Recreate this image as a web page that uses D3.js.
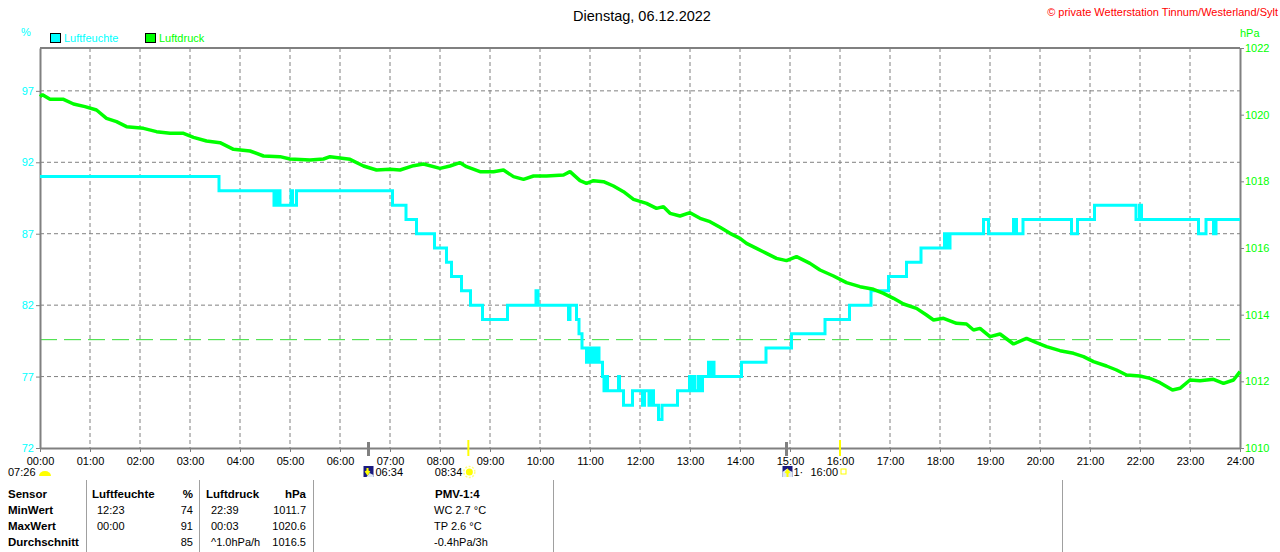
<!DOCTYPE html>
<html>
<head>
<meta charset="utf-8">
<script src="https://cdn.jsdelivr.net/npm/d3@7"></script>
<style>
  body { margin: 0; background: #fff; }
  svg text { font-family: "Liberation Sans", Arial, sans-serif; }
  .narrow { font-family: "Liberation Sans Narrow", "Liberation Sans", Arial, sans-serif; font-stretch: condensed; }
</style>
</head>
<body>
<svg id="chart" width="1280" height="552"></svg>
<script>
// Luftfeuchte, step changes (hour of day, %)
const humTimes = [0, 3.58, 4.68, 4.72, 4.74, 4.78, 4.80, 5.02, 5.05, 5.13, 7.05, 7.32, 7.53, 7.89, 8.13, 8.23, 8.43, 8.61, 8.85,
  9.35, 9.92, 9.96, 10.57, 10.60, 10.73, 10.78, 10.84, 10.93, 10.97, 11.03, 11.07, 11.10, 11.15, 11.18, 11.25, 11.28, 11.31,
  11.35, 11.57, 11.59, 11.67, 11.85, 12.05, 12.09, 12.18, 12.22, 12.27, 12.37, 12.44, 12.75, 12.99, 13.01, 13.05, 13.10,
  13.17, 13.20, 13.25, 13.37, 13.40, 13.45, 13.48, 14.03, 14.52, 15.03, 15.70, 16.19, 16.62, 16.97, 17.33, 17.62, 18.09,
  18.11, 18.14, 18.17, 18.20, 18.87, 18.97, 19.47, 19.53, 19.66, 20.63, 20.75, 21.09, 21.92, 21.99, 22.03, 23.17, 23.32,
  23.47, 23.52, 24]
const humValues = [91, 90, 89, 90, 89, 90, 89, 90, 89, 90, 89, 88, 87, 86, 85, 84, 83, 82, 81,
  82, 83, 82, 81, 82, 81, 80, 79, 78, 79, 78, 79, 78, 79, 78, 77, 76, 77,
  76, 77, 76, 75, 76, 75, 76, 75, 76, 75, 74, 75, 76, 77, 76, 77, 76,
  77, 76, 77, 78, 77, 78, 77, 78, 79, 80, 81, 82, 83, 84, 85, 86, 87,
  86, 87, 86, 87, 88, 87, 88, 87, 88, 87, 88, 89, 88, 89, 88, 87, 88,
  87, 88, 88]

// Luftdruck (hour of day, hPa)
const presTimes = [0, 0.05, 0.2, 0.47, 0.67, 0.9, 1.13, 1.33, 1.53, 1.73, 2.07, 2.33, 2.6, 2.87, 3.07, 3.33, 3.6, 3.87,
  4.2, 4.47, 4.8, 5.0, 5.4, 5.67, 5.8, 6.2, 6.47, 6.73, 7.0, 7.2, 7.47, 7.67, 8.0, 8.2, 8.4, 8.53, 8.8, 9.07, 9.27,
  9.47, 9.67, 9.87, 10.13, 10.47, 10.6, 10.8, 10.93, 11.07, 11.27, 11.47, 11.67, 11.87, 12.13, 12.33, 12.47, 12.6,
  12.8, 13.0, 13.2, 13.4, 13.6, 13.8, 14.0, 14.13, 14.33, 14.53, 14.73, 14.93, 15.13, 15.4, 15.6, 15.87, 16.13, 16.4,
  16.67, 16.87, 17.07, 17.27, 17.53, 17.73, 17.87, 18.07, 18.33, 18.53, 18.67, 18.8, 19.0, 19.2, 19.47, 19.73, 19.93,
  20.13, 20.4, 20.67, 20.87, 21.07, 21.33, 21.53, 21.73, 22.0, 22.2, 22.4, 22.65, 22.8, 23.0, 23.2, 23.47, 23.67,
  23.87, 24]
const presValues = [1020.54, 1020.6, 1020.46, 1020.46, 1020.32, 1020.24, 1020.14, 1019.89, 1019.79, 1019.64, 1019.59,
  1019.49, 1019.44, 1019.44, 1019.32, 1019.21, 1019.16, 1018.96, 1018.91, 1018.76, 1018.74, 1018.67, 1018.64, 1018.67,
  1018.74, 1018.66, 1018.46, 1018.34, 1018.36, 1018.34, 1018.47, 1018.52, 1018.39, 1018.46, 1018.56, 1018.44, 1018.29,
  1018.29, 1018.34, 1018.14, 1018.06, 1018.16, 1018.16, 1018.19, 1018.29, 1018.02, 1017.94, 1018.02, 1017.99, 1017.86,
  1017.69, 1017.46, 1017.34, 1017.19, 1017.24, 1017.04, 1016.96, 1017.06, 1016.89, 1016.79, 1016.62, 1016.44, 1016.29,
  1016.14, 1015.99, 1015.84, 1015.69, 1015.62, 1015.74, 1015.54, 1015.34, 1015.16, 1014.96, 1014.84, 1014.76, 1014.64,
  1014.49, 1014.32, 1014.19, 1013.99, 1013.84, 1013.89, 1013.74, 1013.72, 1013.54, 1013.59, 1013.34, 1013.42, 1013.12,
  1013.29, 1013.16, 1013.04, 1012.92, 1012.84, 1012.74, 1012.59, 1012.46, 1012.34, 1012.19, 1012.16, 1012.09, 1011.96,
  1011.74, 1011.79, 1012.04, 1012.02, 1012.06, 1011.94, 1012.04, 1012.29]

const hourTicks = d3.range(0, 25)
const humTicks = [72, 77, 82, 87, 92, 97]
const presTicks = [1010, 1012, 1014, 1016, 1018, 1020, 1022]
const normPressure = 1013.25

// sun / twilight marks under the time axis
const markTimes = [6.57, 8.567, 14.93, 16.0]
const markKinds = ['twilight', 'sun', 'twilight', 'sun']

const tableHeader = ['Sensor', 'Luftfeuchte', '%', 'Luftdruck', 'hPa', 'PMV-1:4']
const tableRows = [
  ['MinWert', '12:23', '74', '22:39', '1011.7', 'WC 2.7 °C'],
  ['MaxWert', '00:00', '91', '00:03', '1020.6', 'TP 2.6 °C'],
  ['Durchschnitt', '', '85', '^1.0hPa/h', '1016.5', '-0.4hPa/3h']
]

const cyan = '#00ffff', green = '#00ff00', grey = '#808080'
const plotL = 40, plotR = 1240, plotT = 48, plotB = 448

const svg = d3.select('#chart')

let x = d3.scaleLinear().domain([0, 24]).range([plotL, plotR])
let yH = d3.scaleLinear().domain([72, 100]).range([plotB, plotT])
let yP = d3.scaleLinear().domain([1010, 1022]).range([plotB, plotT])

// grid
svg.append('g').selectAll('line')
    .data(hourTicks.slice(1, 24))
    .join('line')
    .attr('x1', d => x(d)).attr('x2', d => x(d))
    .attr('y1', plotT).attr('y2', plotB)
    .attr('stroke', grey).attr('stroke-dasharray', '4,3')

svg.append('g').selectAll('line')
    .data(humTicks.slice(1))
    .join('line')
    .attr('x1', plotL).attr('x2', plotR)
    .attr('y1', d => yH(d)).attr('y2', d => yH(d))
    .attr('stroke', grey).attr('stroke-dasharray', '4,3')

// 1013.25 hPa line
svg.append('line')
    .attr('x1', plotL).attr('x2', plotR - 10)
    .attr('y1', yP(normPressure)).attr('y2', yP(normPressure))
    .attr('stroke', '#33dd33').attr('stroke-dasharray', '17,7')

// top frame
svg.append('line')
    .attr('x1', plotL).attr('x2', plotR).attr('y1', plotT).attr('y2', plotT)
    .attr('stroke', grey).attr('stroke-width', 2)

// axes
function styleAxis(g, color){
    g.select('.domain').attr('stroke', grey).attr('stroke-width', 2)
    g.selectAll('.tick line').attr('stroke', grey)
    g.selectAll('.tick text').attr('fill', color).style('font-size', '11px')
}

svg.append('g')
    .attr('transform', 'translate(' + plotL + ',0)')
    .call(d3.axisLeft(yH).tickValues(humTicks).tickSize(4).tickSizeOuter(0).tickPadding(2))
    .call(g => styleAxis(g, cyan))

svg.append('g')
    .attr('transform', 'translate(' + plotR + ',0)')
    .call(d3.axisRight(yP).tickValues(presTicks).tickSize(4).tickSizeOuter(0).tickPadding(1)
        .tickFormat(d3.format('d')))
    .call(g => styleAxis(g, green))

let xAxis = svg.append('g')
    .attr('transform', 'translate(0,' + plotB + ')')
    .call(d3.axisBottom(x).tickValues(hourTicks).tickSize(4).tickSizeOuter(0).tickPadding(5)
        .tickFormat(d => (d < 10 ? '0' : '') + d + ':00'))
    .call(g => styleAxis(g, '#000'))
xAxis.selectAll('.tick text').attr('class', 'narrow').style('font-size', '11px')

// unit labels
svg.append('text').attr('x', 26).attr('y', 36).attr('text-anchor', 'middle')
    .attr('fill', cyan).style('font-size', '11px').text('%')
svg.append('text').attr('x', 1240).attr('y', 37)
    .attr('fill', green).style('font-size', '11px').text('hPa')

// title and copyright
svg.append('text').attr('x', 642).attr('y', 21).attr('text-anchor', 'middle')
    .style('font-size', '14.5px').text('Dienstag, 06.12.2022')
svg.append('text').attr('x', 1278).attr('y', 16).attr('text-anchor', 'end')
    .attr('fill', '#ff0000').style('font-size', '11px').text('© private Wetterstation Tinnum/Westerland/Sylt')

// legend
const legend = [['Luftfeuchte', cyan, 50], ['Luftdruck', green, 145]]
legend.forEach(l => {
    svg.append('rect').attr('x', l[2] + 0.5).attr('y', 33.5).attr('width', 10).attr('height', 9)
        .attr('fill', l[1]).attr('stroke', '#000')
    svg.append('text').attr('x', l[2] + 14).attr('y', 42)
        .attr('fill', l[1]).style('font-size', '11px').text(l[0])
})

// series
let humData = humTimes.map((t, i) => [t, humValues[i]])
let presData = presTimes.map((t, i) => [t, presValues[i]])

svg.append('path')
    .datum(humData)
    .attr('fill', 'none').attr('stroke', cyan).attr('stroke-width', 3)
    .attr('d', d3.line().x(d => x(d[0])).y(d => yH(d[1])).curve(d3.curveStepAfter))

svg.append('path')
    .datum(presData)
    .attr('fill', 'none').attr('stroke', green).attr('stroke-width', 3.5)
    .attr('stroke-linejoin', 'bevel')
    .attr('d', d3.line().x(d => x(d[0])).y(d => yP(d[1])))

// sun / twilight marks
markTimes.forEach((t, i) => {
    let sun = markKinds[i] == 'sun'
    svg.append('line')
        .attr('x1', x(t)).attr('x2', x(t))
        .attr('y1', sun ? 440 : 442).attr('y2', 456)
        .attr('stroke', sun ? '#ffff00' : grey).attr('stroke-width', sun ? 2 : 3)
})

// event labels below the axis
function fmt(t){
    let h = Math.floor(t), m = Math.round((t - h) * 60)
    return (h < 10 ? '0' : '') + h + ':' + (m < 10 ? '0' : '') + m
}
function twilightIcon(cx, up){
    let g = svg.append('g').attr('transform', 'translate(' + (cx - 5) + ',466)')
    g.append('rect').attr('width', 10).attr('height', 11).attr('fill', '#1a1a80')
    g.append('path').attr('d', up ? 'M0 11 L0 6 L4 3 L10 6 L10 11 Z' : 'M3 11 L6 7 L10 9 L10 11 Z').attr('fill', '#dde6f5')
    g.append('path').attr('d', up ? 'M5 11 L5 5 M3 7 L5 4 L7 7' : 'M4 2 L4 7 M2 5 L4 8 L6 5')
        .attr('stroke', '#ffff00').attr('stroke-width', 2).attr('fill', 'none')
}
svg.append('text').attr('x', 8).attr('y', 476).style('font-size', '11px').text('07:26')
svg.append('path').attr('d', 'M39 476 A6 5 0 0 1 51 476 Z').attr('fill', '#ffff00')

twilightIcon(x(markTimes[0]), false)
svg.append('text').attr('x', x(markTimes[0]) + 7).attr('y', 476).style('font-size', '11px').text(fmt(markTimes[0]))

svg.append('text').attr('x', x(markTimes[1]) - 6).attr('y', 476).attr('text-anchor', 'end')
    .style('font-size', '11px').text(fmt(markTimes[1]))
svg.append('circle').attr('cx', x(markTimes[1]) + 1).attr('cy', 472).attr('r', 3.5).attr('fill', '#ffff00')
svg.append('circle').attr('cx', x(markTimes[1]) + 1).attr('cy', 472).attr('r', 5.5)
    .attr('fill', 'none').attr('stroke', '#ffff80').attr('stroke-width', 1.5).attr('stroke-dasharray', '2,1.5')

twilightIcon(x(markTimes[2]) + 1, true)
svg.append('text').attr('x', x(markTimes[2]) + 7).attr('y', 476).style('font-size', '11px').text('1·')
svg.append('text').attr('x', x(markTimes[3]) - 2).attr('y', 476).attr('text-anchor', 'end')
    .style('font-size', '11px').text(fmt(markTimes[3]))
svg.append('rect').attr('x', x(markTimes[3]) + 1).attr('y', 469).attr('width', 5).attr('height', 5)
    .attr('fill', 'none').attr('stroke', '#ffff00')

// table
const sepX = [86, 199, 313, 553, 1062]
svg.append('g').selectAll('line')
    .data(sepX)
    .join('line')
    .attr('x1', d => d + 0.5).attr('x2', d => d + 0.5)
    .attr('y1', 480).attr('y2', 552)
    .attr('stroke', '#a0a0a0')

// column: x, anchor
const cols = [[8, 'start'], [97, 'start'], [193, 'end'], [211, 'start'], [306, 'end'], [434, 'start']]
const headCols = [[8, 'start'], [92, 'start'], [193, 'end'], [206, 'start'], [306, 'end'], [435, 'start']]
headCols.forEach((c, i) => {
    svg.append('text').attr('x', c[0]).attr('y', 498).attr('text-anchor', c[1])
        .style('font-size', '11.5px').style('font-weight', 'bold').text(tableHeader[i])
})
tableRows.forEach((r, j) => {
    r.forEach((v, i) => {
        svg.append('text').attr('x', cols[i][0]).attr('y', 514 + j * 16).attr('text-anchor', cols[i][1])
            .style('font-size', i == 0 ? '11.5px' : '11px').style('font-weight', i == 0 ? 'bold' : 'normal').text(v)
    })
})
</script>
</body>
</html>
